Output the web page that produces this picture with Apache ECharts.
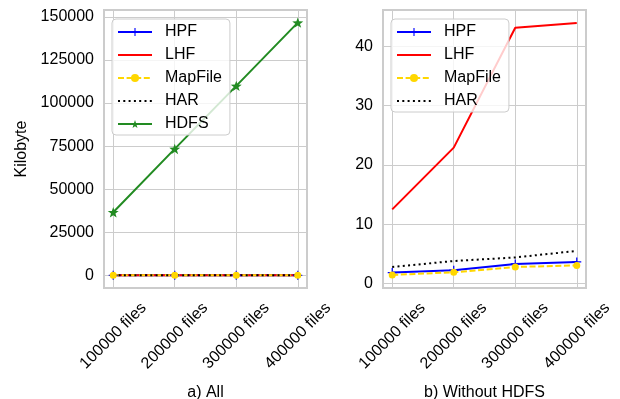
<!DOCTYPE html>
<html>
<head>
<meta charset="utf-8">
<script src="https://cdn.jsdelivr.net/npm/echarts@6/dist/echarts.min.js"></script>
<style>
  html, body { margin: 0; padding: 0; background: #fff; }
  #main { width: 620px; height: 399px; }
</style>
</head>
<body>
<div id="main"></div>
<script>
  // data (Kilobyte)
  let categories = ['100000 files', '200000 files', '300000 files', '400000 files'];
  let hpf = [1.85, 2.25, 3.3, 3.65];
  let lhf = [12.5, 22.9, 43.1, 43.9];
  let mapFile = [1.45, 1.9, 2.8, 3.05];
  let har = [2.8, 3.8, 4.4, 5.5];
  let hdfs = [36600, 73400, 110000, 146700];
  let leftTicks = [0, 25000, 50000, 75000, 100000, 125000, 150000];
  let rightTicks = [0, 10, 20, 30, 40];

  let font = 'Liberation Sans, Arial, sans-serif';
  let star = 'path://M0,-1L0.235,-0.324L0.951,-0.309L0.38,0.124L0.588,0.809L0,0.4L-0.588,0.809L-0.38,0.124L-0.951,-0.309L-0.235,-0.324Z';
  let plus = 'path://M-0.14,-1H0.14V-0.14H1V0.14H0.14V1H-0.14V0.14H-1V-0.14H-0.14Z';

  function pts(arr){
    return arr.map(function(v, i){ return [i, v] })
  }

  function xAxis(idx, name){
    return {
      type: 'value', gridIndex: idx, min: -0.15, max: 3.15,
      name: name, nameLocation: 'middle', nameGap: 97,
      nameTextStyle: {fontFamily: font, fontSize: 16, color: '#000'},
      axisLine: {show: false},
      axisTick: {show: false, customValues: [0, 1, 2, 3]},
      axisLabel: {
        customValues: [0, 1, 2, 3], rotate: 45, margin: 48,
        align: 'center', verticalAlign: 'middle',
        fontFamily: font, fontSize: 16, color: '#000',
        formatter: function(v){ return categories[Math.round(v)] }
      },
      splitLine: {show: true, lineStyle: {color: '#cccccc', width: 1}}
    }
  }

  function yAxis(idx, min, max, ticks, name){
    return {
      type: 'value', gridIndex: idx, min: min, max: max,
      name: name, nameLocation: 'middle', nameGap: 74, nameRotate: 90,
      nameTextStyle: {fontFamily: font, fontSize: 16, color: '#000'},
      axisLine: {show: false},
      axisTick: {show: false, customValues: ticks},
      axisLabel: {
        customValues: ticks, margin: 10, fontFamily: font, fontSize: 16, color: '#000',
        formatter: function(v){ return String(v) }
      },
      splitLine: {show: true, lineStyle: {color: '#cccccc', width: 1}}
    }
  }

  function series(idx){
    let list = [
      {name: 'HPF', type: 'line', data: pts(hpf), color: '#0000ff',
        symbol: plus, symbolSize: 9, lineStyle: {width: 2, type: 'solid'}},
      {name: 'LHF', type: 'line', data: pts(lhf), color: '#ff0000',
        symbol: 'none', lineStyle: {width: 2, type: 'solid'}},
      {name: 'MapFile', type: 'line', data: pts(mapFile), color: '#ffd700',
        symbol: 'circle', symbolSize: 7, lineStyle: {width: 2, type: [6, 2.6]}},
      {name: 'HAR', type: 'line', data: pts(har), color: '#000000',
        symbol: 'none', lineStyle: {width: 2, type: [2, 3.3]}}
    ];
    if(idx == 0){
      list.push({name: 'HDFS', type: 'line', data: pts(hdfs), color: '#228b22',
        symbol: star, symbolSize: 11, symbolKeepAspect: true, lineStyle: {width: 2}});
    }
    list.forEach(function(s){
      s.xAxisIndex = idx;
      s.yAxisIndex = idx;
      s.showSymbol = true;
      s.animation = false;
      s.itemStyle = {color: s.color};
    });
    return list
  }

  // no marker in the legend for the plain lines
  function legendItem(name){
    if(name == 'LHF' || name == 'HAR'){
      return {name: name, itemStyle: {opacity: 0}}
    }
    return {name: name}
  }

  function legend(left, names){
    return {
      left: left, top: 19, orient: 'vertical',
      data: names.map(legendItem),
      itemWidth: 34, itemHeight: 10, itemGap: 7,
      padding: [5, 8, 3, 5],
      backgroundColor: 'rgba(255,255,255,0.8)',
      borderColor: '#cccccc', borderWidth: 1, borderRadius: 4,
      textStyle: {fontFamily: font, fontSize: 16, color: '#000', padding: [0, 0, 0, 8]}
    }
  }

  let chart = echarts.init(document.getElementById('main'), null, {renderer: 'canvas'});
  let option = {
    backgroundColor: '#fff',
    animation: false,
    grid: [
      {left: 104, right: 313, top: 10, bottom: 111, show: true, borderColor: '#cccccc', borderWidth: 2, outerBoundsMode: 'none'},
      {left: 383, right: 34, top: 10, bottom: 111, show: true, borderColor: '#cccccc', borderWidth: 2, outerBoundsMode: 'none'}
    ],
    legend: [
      legend(112, ['HPF', 'LHF', 'MapFile', 'HAR', 'HDFS']),
      legend(391, ['HPF', 'LHF', 'MapFile', 'HAR'])
    ],
    xAxis: [xAxis(0, 'a) All'), xAxis(1, 'b) Without HDFS')],
    yAxis: [
      yAxis(0, -7335, 154035, leftTicks, 'Kilobyte'),
      yAxis(1, -0.75, 46.1, rightTicks, '')
    ],
    series: series(0).concat(series(1))
  };
  chart.setOption(option);
</script>
</body>
</html>
